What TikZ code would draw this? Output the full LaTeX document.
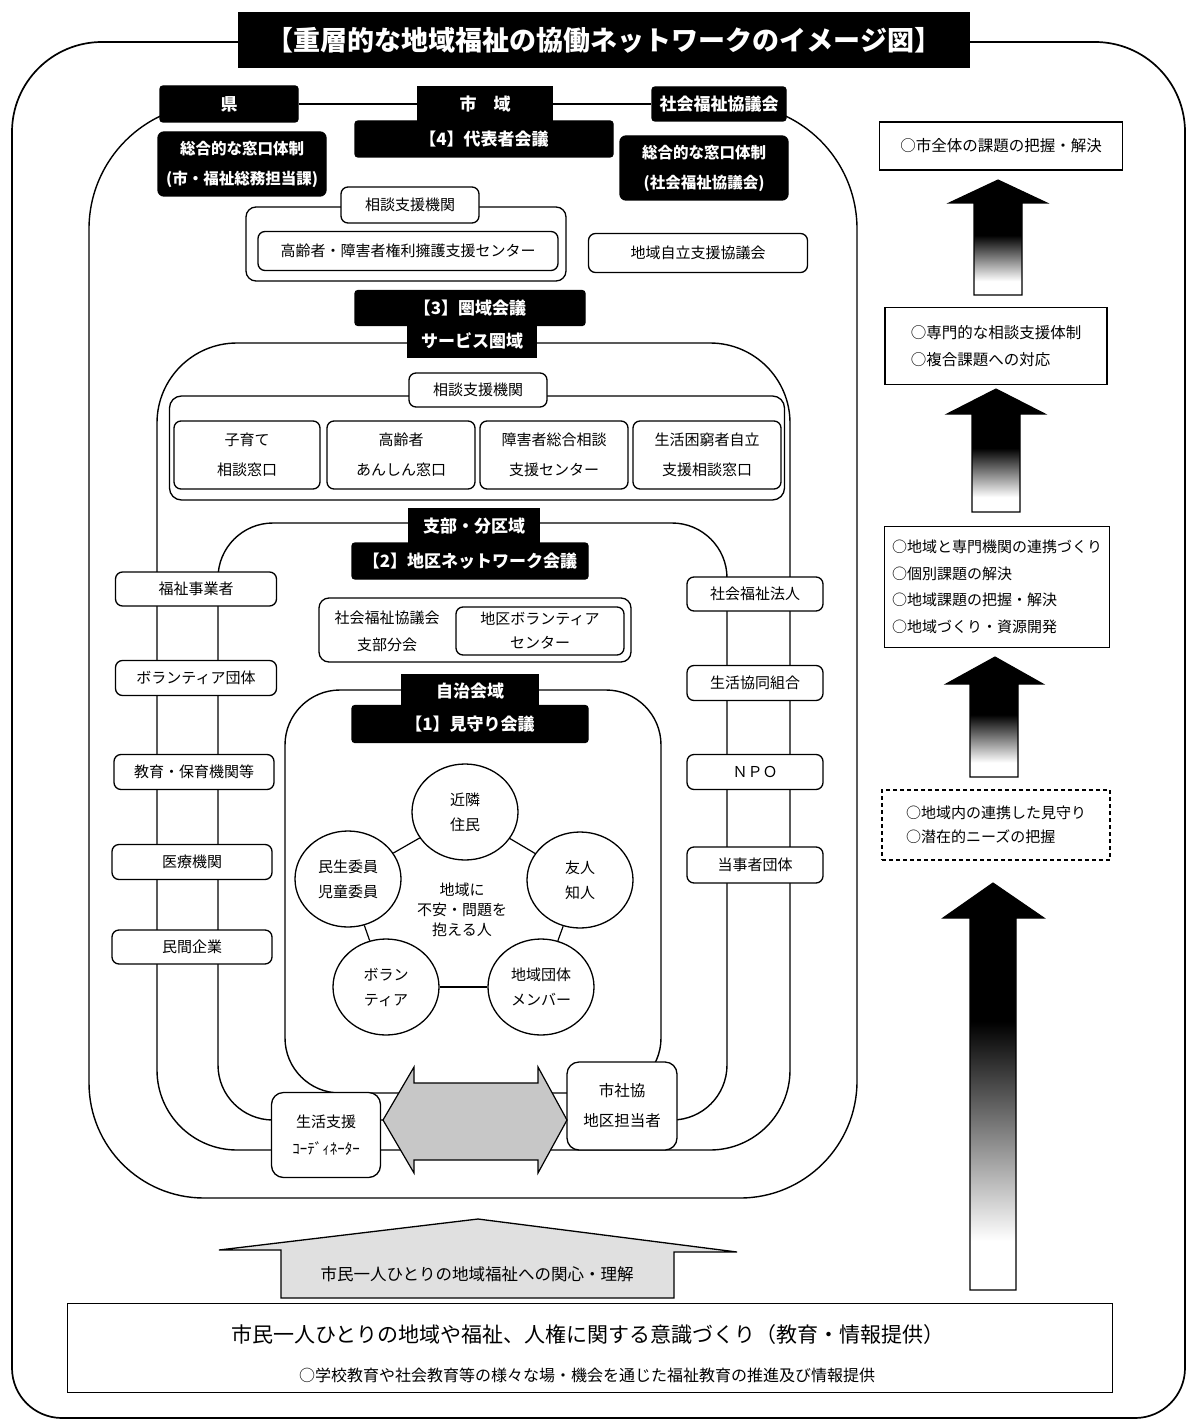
\documentclass[tikz,border=0pt]{standalone}
\usepackage{fontspec}
\setmainfont{Noto Sans CJK JP}
\usetikzlibrary{shapes.geometric}
\pgfdeclareverticalshading{bigup}{100bp}{color(0bp)=(white); color(31bp)=(white); color(58bp)=(black); color(100bp)=(black)}
\pgfdeclareverticalshading{smallup}{100bp}{color(0bp)=(white); color(31bp)=(white); color(51bp)=(black); color(100bp)=(black)}
\newcommand\jfs[2]{\fontsize{#1}{#2}\selectfont}
\begin{document}
\begin{tikzpicture}[x=1pt,y=-1pt,line width=1.3pt,
  wbox/.style={draw,fill=white,rounded corners=7pt,align=center,inner sep=0pt,font=\jfs{15}{28}},
  bbox/.style={draw,fill=black,text=white,rounded corners=3pt,align=center,inner sep=0pt,font=\bfseries\jfs{17}{30}},
  rbox/.style={draw,fill=white,align=left,inner sep=0pt,font=\jfs{15.5}{27}},
  circ/.style={draw,fill=white,ellipse,minimum width=106pt,minimum height=96pt,align=center,inner sep=0pt,font=\jfs{15}{25}},
  frm/.style={line width=1.4pt},
  uparrow/.style={draw,line width=1.1pt},
  cont/.style={draw,fill=white,inner sep=0pt},
  txt/.style={inner sep=0pt,align=center},
]
\useasboundingbox (0,0) rectangle (1190,1423);

% outer frame
\draw[line width=1.7pt] (604,42) -- (102,42) arc[start angle=270,end angle=180,radius=90]
  -- (12,1368) arc[start angle=180,end angle=90,radius=50]
  -- (1135,1418) arc[start angle=90,end angle=0,radius=50]
  -- (1185,132) arc[start angle=0,end angle=-90,radius=90] -- (604,42);

% frame 2 (city)
\draw[frm] (229,104) -- (214,104) arc[start angle=270,end angle=180,radius=125]
  -- (89,1083) arc[start angle=180,end angle=90,radius=115]
  -- (740,1198) arc[start angle=90,end angle=0,radius=117]
  -- (857,229) arc[start angle=0,end angle=-90,radius=125] -- (719,104);
% frame 3, 4, 5
\draw[frm,rounded corners=80pt] (157,343) rectangle (790,1150);
\draw[frm,rounded corners=55pt] (218,523) rectangle (727,1120);
\draw[frm,rounded corners=55pt] (285,690) rectangle (661,1093);

% title
\node[fill=black,text=white,minimum width=732pt,minimum height=56pt,inner sep=0pt,font=\bfseries\jfs{27}{30}] (title) at (604,40) {【重層的な地域福祉の協働ネットワークのイメージ図】};

% top row
\node[bbox,minimum width=138pt,minimum height=36pt] (ken) at (229,104) {県};
\node[bbox,minimum width=258pt,minimum height=36pt] (daihyo) at (484,139) {【4】代表者会議};
\node[bbox,rounded corners=0pt,minimum width=135pt,minimum height=35pt] (shiiki) at (485,104) {市　域};
\node[bbox,minimum width=134pt,minimum height=34pt] (shakyo) at (719,104) {社会福祉協議会};
\draw[frm] (ken) -- (shiiki);
\draw[frm] (shiiki) -- (shakyo);
\node[bbox,rounded corners=6pt,minimum width=168pt,minimum height=64pt,font=\bfseries\jfs{15.5}{30}] (madoL) at (242,164) {総合的な窓口体制\\(市・福祉総務担当課)};
\node[bbox,rounded corners=6pt,minimum width=168pt,minimum height=64pt,font=\bfseries\jfs{15.5}{30}] (madoR) at (704,168) {総合的な窓口体制\\(社会福祉協議会)};

% city-level consultation
\node[cont,rounded corners=10pt,minimum width=320pt,minimum height=74pt] (cont1) at (406,244) {};
\node[wbox,minimum width=138pt,minimum height=36pt] (soudan1) at (410,205) {相談支援機関};
\node[wbox,minimum width=300pt,minimum height=39pt] (kenri) at (408,251) {高齢者・障害者権利擁護支援センター};
\node[wbox,minimum width=219pt,minimum height=39pt] (jiritsu) at (698,253) {地域自立支援協議会};

\node[bbox,minimum width=230pt,minimum height=35pt] (kenikikaigi) at (470,308) {【3】圏域会議};
\node[bbox,rounded corners=0pt,minimum width=128pt,minimum height=32pt] (kenikiserv) at (472,341) {サービス圏域};

% service area consultation
\node[cont,rounded corners=12pt,minimum width=615pt,minimum height=104pt] (cont2) at (477,448) {};
\node[wbox,minimum width=138pt,minimum height=34pt] (soudan2) at (478,390) {相談支援機関};
\node[wbox,minimum width=146pt,minimum height=68pt,font=\jfs{15}{30}] (kosodate) at (247,455) {子育て\\相談窓口};
\node[wbox,minimum width=148pt,minimum height=68pt,font=\jfs{15}{30}] (koreisha) at (401,455) {高齢者\\あんしん窓口};
\node[wbox,minimum width=148pt,minimum height=68pt,font=\jfs{15}{30}] (shogai) at (554,455) {障害者総合相談\\支援センター};
\node[wbox,minimum width=148pt,minimum height=68pt,font=\jfs{15}{30}] (konkyu) at (707,455) {生活困窮者自立\\支援相談窓口};

% district
\node[bbox,rounded corners=0pt,minimum width=130pt,minimum height=35pt] (shibu) at (474,526) {支部・分区域};
\node[bbox,minimum width=236pt,minimum height=36pt] (chiku) at (470,561) {【2】地区ネットワーク会議};
\node[cont,rounded corners=10pt,minimum width=312pt,minimum height=64pt] (cont3) at (475,630) {};
\node[txt,font=\jfs{15}{27}] (shibubunkai) at (387,631) {社会福祉協議会\\支部分会};
\node[wbox,minimum width=168pt,minimum height=48pt,font=\jfs{15}{24}] (chikuvc) at (540,631) {地区ボランティア\\センター};

% neighbourhood
\node[bbox,rounded corners=0pt,minimum width=137pt,minimum height=32pt] (jichikai) at (470,691) {自治会域};
\node[bbox,minimum width=236pt,minimum height=37pt] (mimamori) at (470,724) {【1】見守り会議};

% left boxes
\node[wbox,minimum width=161pt,minimum height=34pt] (jigyo) at (196,589) {福祉事業者};
\node[wbox,minimum width=161pt,minimum height=35pt] (voldan) at (196,678) {ボランティア団体};
\node[wbox,minimum width=160pt,minimum height=35pt] (kyoiku) at (194,772) {教育・保育機関等};
\node[wbox,minimum width=160pt,minimum height=35pt] (iryo) at (192,862) {医療機関};
\node[wbox,minimum width=160pt,minimum height=34pt] (minkan) at (192,947) {民間企業};
% right boxes
\node[wbox,minimum width=136pt,minimum height=34pt] (hojin) at (755,594) {社会福祉法人};
\node[wbox,minimum width=136pt,minimum height=35pt] (seikyo) at (755,683) {生活協同組合};
\node[wbox,minimum width=136pt,minimum height=35pt] (npo) at (755,772) {ＮＰＯ};
\node[wbox,minimum width=136pt,minimum height=36pt] (tojisha) at (755,865) {当事者団体};

% circles
\node[circ] (kinrin) at (465,812) {近隣\\住民};
\node[circ] (minsei) at (348,879) {民生委員\\児童委員};
\node[circ] (yujin) at (580,880) {友人\\知人};
\node[circ] (vol) at (386,987) {ボラン\\ティア};
\node[circ] (dantai) at (541,987) {地域団体\\メンバー};
\node[txt,font=\jfs{15}{20}] (hito) at (462,910) {地域に\\不安・問題を\\抱える人};
\draw[line width=1.2pt] (kinrin) -- (minsei);
\draw[line width=1.2pt] (kinrin) -- (yujin);
\draw[line width=1.2pt] (minsei) -- (vol);
\draw[line width=1.2pt] (yujin) -- (dantai);
\draw[line width=1.2pt] (vol) -- (dantai);

% bottom of networks
\node[wbox,rounded corners=12pt,minimum width=109pt,minimum height=85pt,font=\jfs{15}{27}] (coord) at (326,1135) {生活支援\\ｺｰﾃﾞｨﾈｰﾀｰ};
\node[wbox,rounded corners=12pt,minimum width=110pt,minimum height=88pt,font=\jfs{15.5}{30}] (shishakyo) at (622,1106) {市社協\\地区担当者};
\draw[line width=1.2pt,fill=black!22] (383,1120) -- (414,1067) -- (414,1083) -- (538,1083) -- (538,1067) -- (567,1120) -- (538,1173) -- (538,1160) -- (414,1160) -- (414,1173) -- cycle;

% house arrow
\draw[line width=1.3pt,fill=black!12] (219,1250) -- (478,1219) -- (737,1252) -- (674,1252) -- (674,1298) -- (281,1298) -- (281,1250) -- cycle;
\node[txt,font=\jfs{16.5}{20}] (kanshin) at (477,1274) {市民一人ひとりの地域福祉への関心・理解};

% bottom box
\node[draw,fill=white,minimum width=1045pt,minimum height=89pt,inner sep=0pt] (ishiki) at (590,1348) {};
\node[txt,font=\jfs{21}{24}] (ishiki1) at (588,1335) {市民一人ひとりの地域や福祉、人権に関する意識づくり（教育・情報提供）};
\node[txt,font=\jfs{16}{20}] (ishiki2) at (587,1375) {○学校教育や社会教育等の様々な場・機会を通じた福祉教育の推進及び情報提供};

% right column
\node[rbox,minimum width=243pt,minimum height=48pt] (r1) at (1001,146) {○市全体の課題の把握・解決};
\node[rbox,minimum width=222pt,minimum height=77pt] (r2) at (996,346) {○専門的な相談支援体制\\○複合課題への対応};
\node[rbox,minimum width=225pt,minimum height=121pt,font=\jfs{15}{26.5}] (r3) at (997,587) {○地域と専門機関の連携づくり\\○個別課題の解決\\○地域課題の把握・解決\\○地域づくり・資源開発};
\node[rbox,dash pattern=on 4pt off 3pt,minimum width=228pt,minimum height=70pt,font=\jfs{15}{24}] (r4) at (996,825) {○地域内の連携した見守り\\○潜在的ニーズの把握};

\shadedraw[uparrow,shading=smallup] (998,180) -- (1047,203) -- (1022,203) -- (1022,295) -- (974,295) -- (974,203) -- (949,203) -- cycle;
\shadedraw[uparrow,shading=smallup] (996,389) -- (1045,414) -- (1020,414) -- (1020,512) -- (972,512) -- (972,414) -- (947,414) -- cycle;
\shadedraw[uparrow,shading=smallup] (995,657) -- (1043,684) -- (1018,684) -- (1018,777) -- (970,777) -- (970,684) -- (946,684) -- cycle;
\shadedraw[uparrow,shading=bigup] (993,883) -- (1044,918) -- (1016,918) -- (1016,1290) -- (970,1290) -- (970,918) -- (943,918) -- cycle;
\end{tikzpicture}
\end{document}
